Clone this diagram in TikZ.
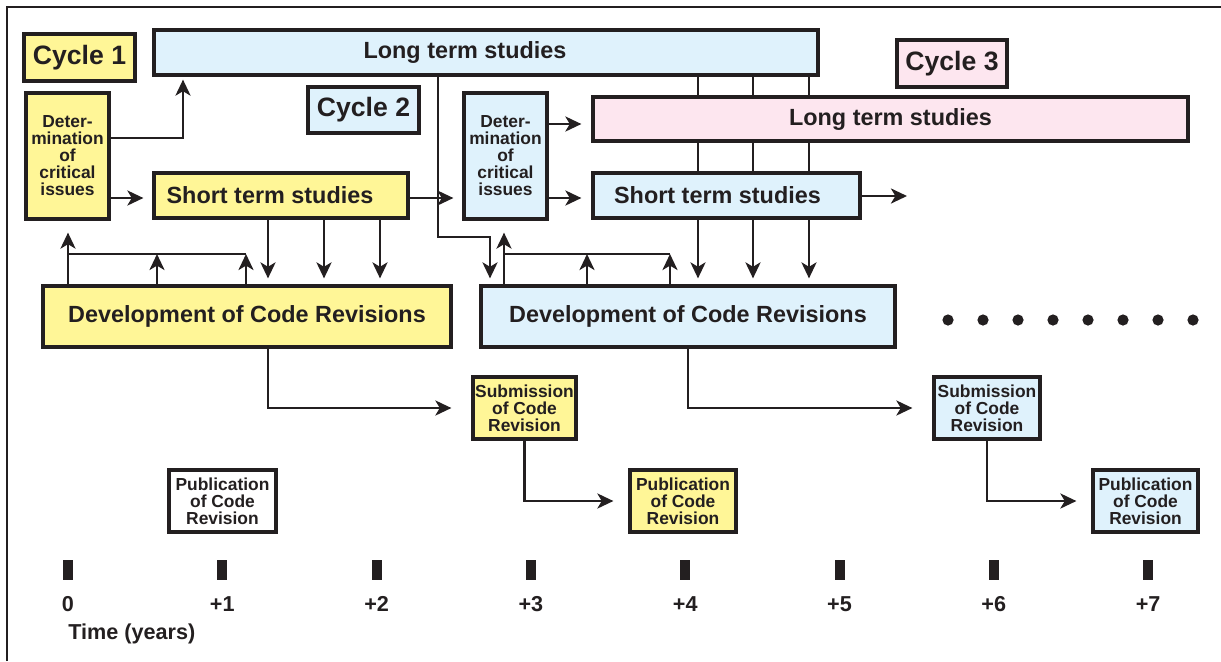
\documentclass[tikz,border=0pt]{standalone}
\usepackage{fontspec}
\setmainfont{Liberation Sans}
\usetikzlibrary{arrows.meta,backgrounds}
\definecolor{cycyellow}{HTML}{FFF697}
\definecolor{cycblue}{HTML}{DFF2FC}
\definecolor{cycpink}{HTML}{FDE6EF}
\definecolor{ink}{HTML}{231F20}
\tikzset{
    box/.style={draw=ink, line width=1.6pt, inner sep=0pt, text=ink},
    big/.style={font=\fontsize{11.7}{13}\selectfont\bfseries},
    huge/.style={font=\fontsize{13.3}{15}\selectfont\bfseries},
    small/.style={align=center, font=\fontsize{8.7}{8.5}\selectfont\bfseries},
    arr/.style={draw=ink, line width=1.4pt, -{Stealth[length=8pt,width=7.5pt,inset=2.2pt]}},
    link/.style={draw=ink, line width=1.4pt},
    tick/.style={fill=ink, inner sep=0pt, minimum width=5pt, minimum height=10pt},
    ticklab/.style={text=ink, font=\fontsize{10.8}{12}\selectfont\bfseries},
}
\begin{document}
\begin{tikzpicture}[x=0.5pt, y=-0.5pt]
        \useasboundingbox (0,0) rectangle (1221,661);
        \draw[ink, line width=1pt] (7,661) -- (7,7) -- (1221,7);

        % cycle 1
        \node[box, huge, fill=cycyellow, minimum width=55.5pt, minimum height=23.5pt] (cyc1) at (79.5,57.5) {Cycle 1};
        \node[box, big, fill=cycblue, minimum width=332pt, minimum height=22.5pt] (lts1) at (486,52.5) {Long term studies\hspace*{21pt}};
        \node[box, small, fill=cycyellow, minimum width=41.5pt, minimum height=63pt] (det1) at (67.5,156) {Deter-\\mination\\of\\critical\\issues};
        \node[box, big, fill=cycyellow, minimum width=127pt, minimum height=22.5pt] (sts1) at (281,195.5) {Short term studies\hspace*{11pt}};
        \node[box, big, fill=cycyellow, minimum width=204pt, minimum height=30.5pt] (dev1) at (247,316.5) {Development of Code Revisions};
        \node[box, small, fill=cycyellow, minimum width=51.5pt, minimum height=31pt] (sub1) at (524.5,408) {Submission\\of Code\\Revision};
        \node[box, small, fill=cycyellow, minimum width=53pt, minimum height=31pt] (pub1) at (683,501) {Publication\\of Code\\Revision};
        \node[box, small, fill=white, minimum width=53.5pt, minimum height=31pt] (pub0) at (222.5,501) {Publication\\of Code\\Revision};

        % cycle 2
        \node[box, huge, fill=cycblue, minimum width=55.5pt, minimum height=23pt] (cyc2) at (363.5,110) {Cycle 2};
        \node[box, small, fill=cycblue, minimum width=41.5pt, minimum height=63pt] (det2) at (505.5,156) {Deter-\\mination\\of\\critical\\issues};
        \node[box, big, fill=cycblue, minimum width=133.5pt, minimum height=22.5pt] (sts2) at (726.5,195.5) {Short term studies\hspace*{9pt}};
        \node[box, big, fill=cycblue, minimum width=207pt, minimum height=30.5pt] (dev2) at (688,316.5) {Development of Code Revisions};
        \node[box, small, fill=cycblue, minimum width=53pt, minimum height=31pt] (sub2) at (987,408) {Submission\\of Code\\Revision};
        \node[box, small, fill=cycblue, minimum width=52.5pt, minimum height=31pt] (pub2) at (1145.5,501) {Publication\\of Code\\Revision};

        % cycle 3
        \node[box, huge, fill=cycpink, minimum width=55pt, minimum height=23.5pt] (cyc3) at (952,63.5) {Cycle 3};
        \node[box, big, fill=cycpink, minimum width=297.5pt, minimum height=22pt] (lts3) at (890.5,119) {Long term studies};

        % long term studies feed the later cycles
        \begin{scope}[on background layer]
            \foreach \x in {698,753,809}
                \draw[arr, shorten >=3pt] (\x,0 |- lts1.south) -- (\x,0 |- dev2.north);
        \end{scope}

        % cycle 1 connectors
        \draw[arr, shorten >=1.5pt] (det1.east |- 0,138) -| (183,0 |- lts1.south);
        \draw[arr, shorten >=4.5pt] (det1.east |- 0,198) -- (sts1.west |- 0,198);
        \draw[arr, shorten >=4.5pt] (sts1.east |- 0,198) -- (det2.west |- 0,198);
        \foreach \x in {268,324,380}
            \draw[arr, shorten >=3pt] (\x,0 |- sts1.south) -- (\x,0 |- dev1.north);
        \coordinate (fb1l) at (68,254);
        \coordinate (fb1r) at (246,254);
        \draw[arr, shorten >=6pt] (fb1l |- dev1.north) -- (fb1l |- det1.south);
        \draw[link] (fb1l) -- (fb1r);
        \draw[arr] (157,0 |- dev1.north) -- (157,0 |- fb1l);
        \draw[arr] (fb1r |- dev1.north) -- (fb1r);
        \draw[arr, shorten >=10pt] (268,0 |- dev1.south) |- (sub1);
        \draw[arr, shorten >=7.5pt] (sub1.south) |- (pub1);

        % cycle 2 connectors
        \draw[arr, shorten >=3pt] (438,0 |- lts1.south) |- (490,237) -- (490,0 |- dev2.north);
        \draw[arr, shorten >=5pt] (det2.east |- 0,124) -- (lts3.west |- 0,124);
        \draw[arr, shorten >=5pt] (det2.east |- 0,198) -- (sts2.west |- 0,198);
        \coordinate (sts2out) at (907,196);
        \draw[arr] (sts2.east |- sts2out) -- (sts2out);
        \coordinate (fb2l) at (504,254);
        \coordinate (fb2r) at (670,254);
        \draw[arr, shorten >=6pt] (fb2l |- dev2.north) -- (fb2l |- det2.south);
        \draw[link] (fb2l) -- (fb2r);
        \draw[arr] (587,0 |- dev2.north) -- (587,0 |- fb2l);
        \draw[arr] (fb2r |- dev2.north) -- (fb2r);
        \draw[arr, shorten >=10pt] (dev2.south) |- (sub2);
        \draw[arr, shorten >=7.5pt] (sub2.south) |- (pub2);

        % further cycles
        \foreach \i in {0,...,7}
            \fill[ink] (948+35*\i,320) circle (2.8pt);

        % time axis
        \foreach \i/\lab in {0/0,1/+1,2/+2,3/+3,4/+4,5/+5,6/+6,7/+7} {
            \node[tick] (t\i) at ({68+154.3*\i},570) {};
            \node[ticklab] (l\i) at ({68+154.3*\i},604) {\lab};
        }
        \node[ticklab, anchor=west, inner sep=0pt] (timelab) at (68,634) {Time (years)};
\end{tikzpicture}
\end{document}
